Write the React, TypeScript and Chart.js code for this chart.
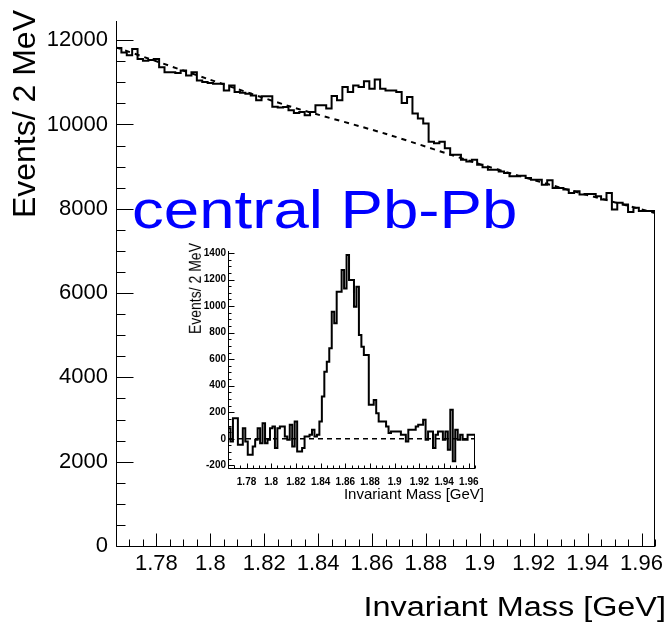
import React, { useEffect, useRef } from 'react';
import { Chart, registerables } from 'chart.js';

Chart.register(...registerables);

// ---- data ----
const MASS_MIN = 1.765;
const MASS_MAX = 1.965;
const BIN_WIDTH = 0.002;

// main histogram: events per 2 MeV bin, central Pb-Pb
const mainCounts = [
  11867, 11812, 11710, 11640, 11789, 11553, 11514, 11530, 11553, 11358,
  11240, 11240, 11220, 11279, 11161, 11240, 11043, 11005, 10985, 10965,
  10965, 10808, 10926, 10769, 10750, 10730, 10690, 10573, 10667, 10667,
  10420, 10400, 10416, 10337, 10275, 10298, 10220, 10298, 10455, 10455,
  10377, 10675, 10573, 10887, 10769, 10926, 10887, 11028, 10847, 11067,
  10847, 10808, 10808, 10769, 10510, 10651, 10259, 10141, 10024, 9593,
  9553, 9593, 9436, 9279, 9279, 9161, 9122, 9161, 9043, 8988,
  8926, 8926, 8886, 8847, 8769, 8769, 8784, 8730, 8690, 8690,
  8573, 8675, 8494, 8494, 8455, 8377, 8416, 8338, 8353, 8353,
  8298, 8220, 8377, 7985, 8141, 8102, 7922, 8024, 7945, 7945,
];

// background fit (dashed)
const bgMass = [1.765, 1.8, 1.83, 1.865, 1.9, 1.93, 1.965];
const bgCounts = [11830, 11060, 10420, 9780, 9060, 8500, 7900];

// inset: background-subtracted histogram
const insetCounts = [
  68, 80, -20, 155, 155, -45, -45, 80, -20, -120,
  -120, -58, -8, 80, -33, 118, -33, -8, 80, 93,
  -70, 80, 93, 93, 18, -8, 105, -58, 130, -95,
  -95, -70, 18, 18, 30, 68, 18, 30, 130, 318,
  506, 581, 682, 957, 870, 1108, 1108, 1271, 1133, 1384,
  1196, 1196, 995, 1145, 782, 694, 632, 632, 256, 256,
  293, 193, 130, 130, 130, 93, 43, 55, 55, 55,
  55, 30, 30, -20, 68, 68, 68, 93, 105, 105,
  143, -8, 55, 55, -70, 30, 55, 55, -8, 55,
  -83, 218, -170, 68, -8, 30, -8, -8, 30, 30,
];
const insetBaseMass = [1.765, 1.965];
const insetBaseCounts = [0, 0];

// axis ranges / tick steps
const MAIN_Y_MIN = 0;
const MAIN_Y_MAX = 12450;
const MAIN_Y_MAJOR = 2000;
const MAIN_Y_MINOR = 500;
const INSET_Y_MIN = -220;
const INSET_Y_MAX = 1415;
const INSET_Y_MAJOR = 200;
const INSET_Y_MINOR = 50;
const MASS_MAJOR = 0.02;
const MASS_MINOR = 0.005;

// ---- helpers ----
function histPoints(counts: number[], floor: number) {
  const pts: { x: number; y: number }[] = [{ x: MASS_MIN, y: floor }];
  counts.forEach((c, i) => pts.push({ x: MASS_MIN + i * BIN_WIDTH, y: c }));
  pts.push({ x: MASS_MAX, y: counts[counts.length - 1] });
  pts.push({ x: MASS_MAX, y: floor });
  return pts;
}

function isMultiple(v: number, step: number) {
  const r = v / step;
  return Math.abs(r - Math.round(r)) < 1e-6;
}

function stepValues(min: number, max: number, step: number) {
  const out: number[] = [];
  for (let k = Math.ceil(min / step - 1e-9); k * step <= max + 1e-9; k++) out.push(k * step);
  return out;
}

function massLabel(v: number) {
  return String(Number(v.toFixed(2)));
}

const rootAxesPlugin = {
  id: 'rootAxes',
  afterDatasetsDraw(chart: any, _args: any, opts: any) {
    const { ctx, chartArea: a, scales } = chart;
    const x = scales.x;
    const y = scales.y;
    ctx.save();
    ctx.strokeStyle = '#000';
    ctx.lineWidth = opts.lineWidth || 1;
    ctx.beginPath();
    const L = Math.round(a.left) + 0.5;
    const B = Math.round(a.bottom) + 0.5;
    ctx.moveTo(L, Math.round(a.top));
    ctx.lineTo(L, B);
    ctx.lineTo(Math.round(a.right), B);
    stepValues(y.min, y.max, opts.yMinor).forEach((v) => {
      const py = Math.round(y.getPixelForValue(v)) + 0.5;
      const major = isMultiple(v, opts.yMajor);
      ctx.moveTo(L, py);
      ctx.lineTo(L + (major ? opts.yMajorLen : opts.yMinorLen), py);
    });
    stepValues(x.min, x.max, opts.xMinor).forEach((v) => {
      const px = Math.round(x.getPixelForValue(v)) + 0.5;
      const major = isMultiple(v, opts.xMajor);
      ctx.moveTo(px, B);
      ctx.lineTo(px, B - (major ? opts.xMajorLen : opts.xMinorLen));
    });
    ctx.stroke();
    ctx.restore();
  },
};

const FONT = '"Liberation Sans", Arial, Helvetica, sans-serif';

function makeOptions(cfg: any) {
  return {
    responsive: false,
    animation: false,
    events: [],
    layout: { padding: { top: cfg.top, right: cfg.right, left: 0, bottom: 0 } },
    plugins: {
      legend: { display: false },
      tooltip: { enabled: false },
      rootAxes: cfg.axes,
    },
    scales: {
      x: {
        type: 'linear',
        min: MASS_MIN,
        max: MASS_MAX,
        afterFit: (s: any) => { s.height = cfg.xHeight; },
        afterBuildTicks: (s: any) => {
          s.ticks = stepValues(MASS_MIN, MASS_MAX, MASS_MAJOR).map((v) => ({ value: v }));
        },
        grid: { drawOnChartArea: false, drawTicks: false, color: 'rgba(0,0,0,0)' },
        border: { display: false },
        ticks: {
          autoSkip: false,
          maxRotation: 0,
          minRotation: 0,
          padding: cfg.xPad,
          color: '#000',
          font: cfg.font,
          callback: (v: any) => massLabel(Number(v)),
        },
      },
      y: {
        type: 'linear',
        min: cfg.yMin,
        max: cfg.yMax,
        afterFit: (s: any) => { s.width = cfg.yWidth; },
        afterBuildTicks: (s: any) => {
          s.ticks = stepValues(cfg.yMin, cfg.yMax, cfg.yMajor).map((v) => ({ value: v }));
        },
        grid: { drawOnChartArea: false, drawTicks: false, color: 'rgba(0,0,0,0)' },
        border: { display: false },
        ticks: {
          autoSkip: false,
          padding: cfg.yPad,
          color: '#000',
          font: cfg.font,
          callback: (v: any) => String(Math.round(Number(v))),
        },
      },
    },
  };
}

export default function App() {
  const mainRef = useRef<HTMLCanvasElement>(null);
  const insetRef = useRef<HTMLCanvasElement>(null);

  useEffect(() => {
    const mainChart = new Chart(mainRef.current as HTMLCanvasElement, {
      type: 'line',
      data: {
        datasets: [
          {
            data: histPoints(mainCounts, MAIN_Y_MIN),
            stepped: 'after',
            borderColor: '#000',
            borderWidth: 2,
            pointRadius: 0,
            fill: false,
          },
          {
            data: bgMass.map((m, i) => ({ x: m, y: bgCounts[i] })),
            borderColor: '#000',
            borderWidth: 2,
            borderDash: [5, 5],
            pointRadius: 0,
            tension: 0.3,
            fill: false,
          },
        ],
      } as any,
      options: makeOptions({
        top: 16, right: 17, xHeight: 83, yWidth: 116, xPad: 5, yPad: 8,
        yMin: MAIN_Y_MIN, yMax: MAIN_Y_MAX, yMajor: MAIN_Y_MAJOR,
        font: { family: FONT, size: 22 },
        axes: { yMajor: MAIN_Y_MAJOR, yMinor: MAIN_Y_MINOR, xMajor: MASS_MAJOR, xMinor: MASS_MINOR, yMajorLen: 17, yMinorLen: 9, xMajorLen: 13, xMinorLen: 7, lineWidth: 1 },
      }) as any,
      plugins: [rootAxesPlugin],
    });

    const insetChart = new Chart(insetRef.current as HTMLCanvasElement, {
      type: 'line',
      data: {
        datasets: [
          {
            data: histPoints(insetCounts, INSET_Y_MIN),
            stepped: 'after',
            borderColor: '#000',
            borderWidth: 2,
            pointRadius: 0,
            fill: false,
          },
          {
            data: insetBaseMass.map((m, i) => ({ x: m, y: insetBaseCounts[i] })),
            borderColor: '#000',
            borderWidth: 1.5,
            borderDash: [5, 4],
            pointRadius: 0,
            fill: false,
          },
        ],
      } as any,
      options: makeOptions({
        top: 16, right: 15, xHeight: 42, yWidth: 58, xPad: 8, yPad: 2,
        yMin: INSET_Y_MIN, yMax: INSET_Y_MAX, yMajor: INSET_Y_MAJOR,
        font: { family: FONT, size: 10, weight: 'bold' },
        axes: { yMajor: INSET_Y_MAJOR, yMinor: INSET_Y_MINOR, xMajor: MASS_MAJOR, xMinor: MASS_MINOR, yMajorLen: 6, yMinorLen: 3, xMajorLen: 5, xMinorLen: 3, lineWidth: 1 },
      }) as any,
      plugins: [rootAxesPlugin],
    });

    return () => {
      mainChart.destroy();
      insetChart.destroy();
    };
  }, []);

  const abs: React.CSSProperties = { position: 'absolute', whiteSpace: 'nowrap', lineHeight: 1, fontFamily: FONT, color: '#000' };

  return (
    <div style={{ position: 'absolute', left: 0, top: 0, width: 672, height: 629, background: '#fff', overflow: 'hidden' }}>
      <canvas ref={mainRef} width={672} height={629} style={{ position: 'absolute', left: 0, top: 0, width: 672, height: 629 }} />
      <canvas ref={insetRef} width={320} height={275} style={{ position: 'absolute', left: 170, top: 235, width: 320, height: 275 }} />

      {/* main y title */}
      <div style={{ ...abs, left: 8, top: 310, width: 300, textAlign: 'right', fontSize: 32, transformOrigin: '0 0', transform: 'rotate(-90deg)' }}>
        Events/ 2 MeV
      </div>
      {/* main x title */}
      <div style={{ ...abs, left: 266, top: 594, width: 400, textAlign: 'right', fontSize: 27, transformOrigin: '100% 0', transform: 'scaleX(1.2)' }}>
        Invariant Mass [GeV]
      </div>
      {/* label */}
      <div style={{ ...abs, left: 132, top: 183, fontSize: 53, color: '#0000ff', transformOrigin: '0 0', transform: 'scaleX(1.2)' }}>
        central Pb-Pb
      </div>
      {/* inset y title */}
      <div style={{ ...abs, left: 187, top: 443, width: 200, textAlign: 'right', fontSize: 14, transformOrigin: '0 0', transform: 'scaleX(1.15) rotate(-90deg)' }}>
        Events/ 2 MeV
      </div>
      {/* inset x title */}
      <div style={{ ...abs, left: 284, top: 486, width: 200, textAlign: 'right', fontSize: 15 }}>
        Invariant Mass [GeV]
      </div>
    </div>
  );
}
